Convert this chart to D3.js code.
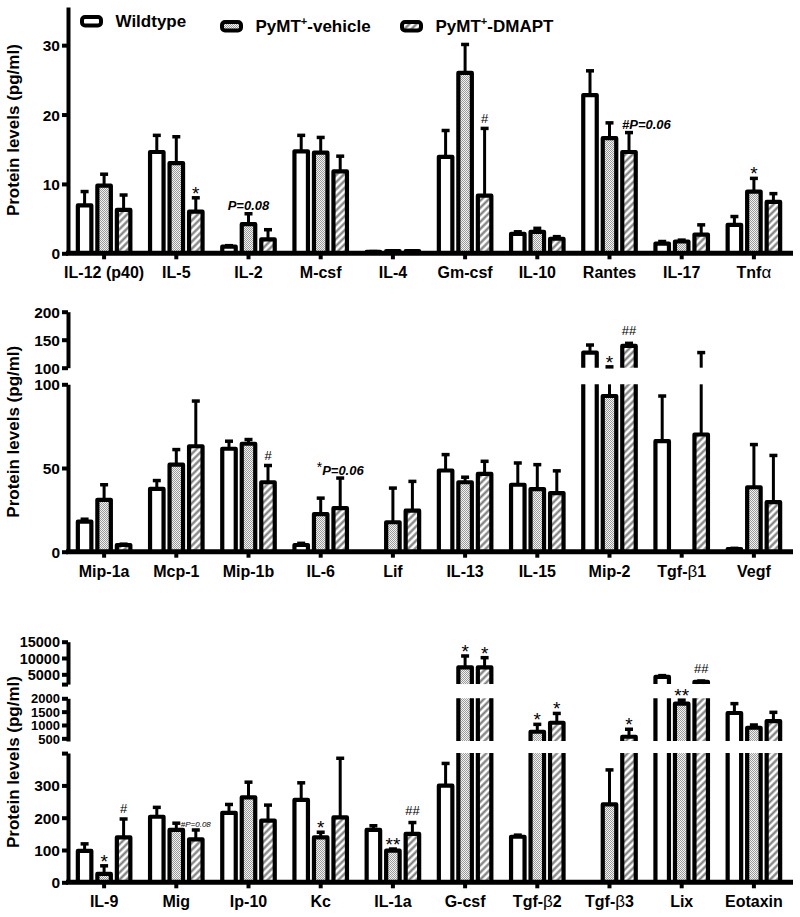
<!DOCTYPE html>
<html><head><meta charset="utf-8">
<script src="https://cdn.jsdelivr.net/npm/d3@7"></script>
<style>
body{margin:0;background:#fff}
svg text{font-family:"Liberation Sans", Arial, Helvetica, sans-serif;fill:#000}
</style></head>
<body><svg id="chart" width="800" height="917"></svg>
<script>
// ---------------- DATA ----------------
const groups = ["Wildtype", "PyMT+-vehicle", "PyMT+-DMAPT"];

const cats1 = ["IL-12 (p40)", "IL-5", "IL-2", "M-csf", "IL-4", "Gm-csf", "IL-10", "Rantes", "IL-17", "Tnfα"];
const wt1     = [6.9, 14.6, 0.95, 14.7, 0.2, 13.9, 2.8, 22.8, 1.4, 4.1];
const wt1Sem  = [2.0, 2.4, 0.15, 2.3, 0.05, 3.8, 0.3, 3.5, 0.3, 1.2];
const veh1    = [9.75, 13.0, 4.2, 14.5, 0.3, 26.0, 3.1, 16.6, 1.7, 8.9];
const veh1Sem = [1.65, 3.8, 1.5, 2.2, 0.05, 4.1, 0.5, 2.2, 0.2, 1.9];
const dm1     = [6.25, 6.0, 2.0, 11.8, 0.3, 8.3, 2.1, 14.6, 2.7, 7.4];
const dm1Sem  = [2.15, 2.0, 1.4, 2.2, 0.05, 9.7, 0.3, 2.8, 1.4, 1.2];
const ticks1 = [0, 10, 20, 30];

const cats2 = ["Mip-1a", "Mcp-1", "Mip-1b", "IL-6", "Lif", "IL-13", "IL-15", "Mip-2", "Tgf-β1", "Vegf"];
const wt2     = [18.0, 37.5, 61.5, 4.0, 0, 48.5, 40.0, 127, 66, 1.5];
const wt2Sem  = [1.4, 5.0, 4.5, 1.0, 0, 9.5, 13.0, 13.5, 27, 0.5];
const veh2    = [31, 52, 64.5, 22.4, 17.6, 41.5, 37.4, 93, 0, 38.5];
const veh2Sem = [9, 9, 2.5, 9.6, 20.4, 3.0, 14.6, 8.5, 0, 25.5];
const dm2     = [4.0, 63, 41.5, 26, 24.5, 46.5, 35, 138.8, 70, 29.6];
const dm2Sem  = [0.5, 27, 10, 18, 17.5, 7.5, 13.3, 4.7, 57, 27.9];
const ticks2Low = [0, 50, 100];
const ticks2High = [100, 150, 200];

const cats3 = ["IL-9", "Mig", "Ip-10", "Kc", "IL-1a", "G-csf", "Tgf-β2", "Tgf-β3", "Lix", "Eotaxin"];
const wt3     = [97, 203, 215, 255, 162, 299, 141, 0, 4200, 1450];
const wt3Sem  = [22, 29, 26, 53, 13, 69, 5, 0, 400, 350];
const veh3    = [26, 162, 263, 139, 98, 7150, 747, 241, 1800, 897];
const veh3Sem = [25, 21, 47, 16, 5, 3470, 277, 107, 130, 103];
const dm3     = [139, 133, 191, 201, 150, 7150, 1084, 560, 2700, 1148];
const dm3Sem  = [57, 29, 48, 183, 35, 2950, 349, 280, 250, 326];
const ticks3Low = [0, 100, 200, 300];
const ticks3Mid = [500, 1000, 1500, 2000];
const ticks3High = [5000, 10000, 15000];

const notes1 = [
  {cat: "IL-5", g: 2, text: "*"},
  {cat: "IL-2", g: 1, text: "P=0.08"},
  {cat: "Gm-csf", g: 2, text: "#"},
  {cat: "Rantes", g: 2, text: "#P=0.06", anchor: "start"},
  {cat: "Tnfα", g: 1, text: "*"}
];
const notes2 = [
  {cat: "Mip-1b", g: 2, text: "#"},
  {cat: "IL-6", g: 2, text: "*P=0.06"},
  {cat: "Mip-2", g: 1, text: "*"},
  {cat: "Mip-2", g: 2, text: "##"}
];
const notes3 = [
  {cat: "IL-9", g: 1, text: "*"}, {cat: "IL-9", g: 2, text: "#"},
  {cat: "Mig", g: 2, text: "#P=0.08", small: true},
  {cat: "Kc", g: 1, text: "*"},
  {cat: "IL-1a", g: 1, text: "**"}, {cat: "IL-1a", g: 2, text: "##"},
  {cat: "G-csf", g: 1, text: "*"}, {cat: "G-csf", g: 2, text: "*"},
  {cat: "Tgf-β2", g: 1, text: "*"}, {cat: "Tgf-β2", g: 2, text: "*"},
  {cat: "Tgf-β3", g: 2, text: "*"},
  {cat: "Lix", g: 1, text: "**"}, {cat: "Lix", g: 2, text: "##"}
];

// ---------------- LAYOUT ----------------
const svg = d3.select("#chart");
const defs = svg.append("defs");
const chk = defs.append("pattern").attr("id", "chk").attr("patternUnits", "userSpaceOnUse")
  .attr("width", 2).attr("height", 2);
chk.append("rect").attr("width", 2).attr("height", 2).attr("fill", "#f2f2f2");
chk.append("rect").attr("width", 1).attr("height", 1).attr("fill", "#9a9a9a");
chk.append("rect").attr("x", 1).attr("y", 1).attr("width", 1).attr("height", 1).attr("fill", "#9a9a9a");
const hatch = defs.append("pattern").attr("id", "hatch").attr("patternUnits", "userSpaceOnUse")
  .attr("width", 5).attr("height", 5).attr("patternTransform", "rotate(45)");
hatch.append("rect").attr("width", 5).attr("height", 5).attr("fill", "#fff");
hatch.append("line").attr("x1", 1.5).attr("y1", 0).attr("x2", 1.5).attr("y2", 5)
  .attr("stroke", "#7a7a7a").attr("stroke-width", 2.2);
const fills = ["#fff", "url(#chk)", "url(#hatch)"];

const X0 = 68, X1 = 790;
const BW = 13.5, OFF = 19.5, SW = 4.2;

const panels = [
  {cats: cats1, vals: [wt1, veh1, dm1], sems: [wt1Sem, veh1Sem, dm1Sem], notes: notes1,
   segs: [{domain: [0, 35.5], range: [253.3, 7], ticks: ticks1, labels: ticks1, fs: 15.5}]},
  {cats: cats2, vals: [wt2, veh2, dm2], sems: [wt2Sem, veh2Sem, dm2Sem], notes: notes2,
   segs: [{domain: [0, 100], range: [551.7, 384.3], ticks: ticks2Low, labels: ticks2Low, fs: 15.5},
          {domain: [100, 200], range: [367.7, 311.7], ticks: ticks2High, labels: ticks2High, fs: 15.5}]},
  {cats: cats3, vals: [wt3, veh3, dm3], sems: [wt3Sem, veh3Sem, dm3Sem], notes: notes3,
   segs: [{domain: [0, 400], range: [882.3, 753.1], ticks: ticks3Low.concat([400]), labels: ticks3Low, fs: 15.5},
          {domain: [400, 2000], range: [741, 698.3], ticks: ticks3Mid, labels: ticks3Mid, fs: 13},
          {domain: [2000, 15000], range: [684.1, 641.7], ticks: [2000].concat(ticks3High), labels: ticks3High, fs: 14.5}]}
];

function labelWithGreek(sel) {
  sel.each(function(d) {
    const t = d3.select(this);
    const s = String(d);
    const m = s.match(/^(.*?)([αβ])(.*)$/);
    if (m) {
      t.text(null);
      t.append("tspan").text(m[1]);
      t.append("tspan").attr("font-weight", "normal").attr("font-size", 17).text(m[2]);
      if (m[3]) t.append("tspan").text(m[3]);
    }
  });
}

panels.forEach(p => {
  const g = svg.append("g");
  const x = d3.scaleBand().domain(p.cats).range([X0, X1]).padding(0);
  p.segs.forEach(s => { s.scale = d3.scaleLinear().domain(s.domain).range(s.range); });
  const baseY = p.segs[0].range[0];
  const topY = p.segs[p.segs.length - 1].range[1];

  // bars
  p.cats.forEach((c, ci) => {
    [0, 1, 2].forEach(gi => {
      const v = p.vals[gi][ci], e = p.sems[gi][ci];
      if (!(v > 0)) return;
      const xc = x(c) + x.bandwidth() / 2 + (gi - 1) * OFF;
      const top = v + e;
      const bg = g.append("g");
      p.segs.forEach((s, si) => {
        const [d0, d1] = s.domain;
        if (v > d0) {
          const hi = Math.min(v, d1);
          const y0 = s.scale(d0), y1 = s.scale(hi);
          const closed = v <= d1;
          bg.append("rect").attr("x", xc - BW / 2).attr("y", y1)
            .attr("width", BW).attr("height", y0 - y1).attr("fill", fills[gi]);
          const l = xc - BW / 2, r = xc + BW / 2;
          const path = closed
            ? `M${l},${y0}L${l},${y1}L${r},${y1}L${r},${y0}`
            : `M${l},${y0}L${l},${y1}M${r},${y1}L${r},${y0}`;
          bg.append("path").attr("d", path).attr("fill", "none").attr("stroke", "#000")
            .attr("stroke-width", SW).attr("stroke-linejoin", "round");
        }
        // error bar
        const eLo = Math.max(v, d0), eHi = Math.min(top, d1);
        if (eHi > eLo) {
          bg.append("line").attr("x1", xc).attr("x2", xc)
            .attr("y1", s.scale(eLo)).attr("y2", s.scale(eHi))
            .attr("stroke", "#000").attr("stroke-width", 3);
        }
        if (top > d0 && top <= d1 && e > 0) {
          bg.append("line").attr("x1", xc - 4).attr("x2", xc + 4)
            .attr("y1", s.scale(top)).attr("y2", s.scale(top))
            .attr("stroke", "#000").attr("stroke-width", 3.5);
        }
      });
    });
  });

  // annotations
  p.notes.forEach(n => {
    const ci = p.cats.indexOf(n.cat);
    const v = p.vals[n.g][ci], e = p.sems[n.g][ci], top = v + e;
    const s = p.segs.find(s => top > s.domain[0] && top <= s.domain[1]) || p.segs[0];
    const ye = s.scale(top);
    const xc = x(n.cat) + x.bandwidth() / 2 + (n.g - 1) * OFF;
    const t = g.append("text").attr("text-anchor", n.anchor || "middle");
    const txt = n.text;
    if (/^\*+$/.test(txt)) {
      t.attr("x", xc).attr("y", ye + 2).attr("font-size", 19).text(txt);
    } else if (/^#+$/.test(txt)) {
      t.attr("x", xc).attr("y", ye - (txt.length > 1 ? 8 : 5.5)).attr("font-size", 13).text(txt);
    } else {
      const fs = n.small ? 8 : 13;
      t.attr("x", n.anchor === "start" ? xc - 7 : xc).attr("y", ye - (n.small ? 3 : 3.5))
        .attr("font-size", fs).attr("font-style", "italic").attr("font-weight", n.small ? "normal" : "bold");
      if (txt[0] === "*") {
        t.append("tspan").attr("font-style", "normal").attr("font-weight", "normal")
          .attr("font-size", 14).attr("dy", -3).text("*");
        t.append("tspan").attr("dy", 3).text(txt.slice(1));
      } else {
        t.text(txt);
      }
    }
  });

  // y axes
  p.segs.forEach(s => {
    const ax = g.append("g").attr("transform", `translate(${X0},0)`)
      .call(d3.axisLeft(s.scale).tickValues(s.ticks).tickSize(6).tickSizeOuter(0)
        .tickFormat(d => s.labels.includes(d) ? d : ""));
    ax.select(".domain").attr("stroke", "#000").attr("stroke-width", 4);
    ax.selectAll(".tick line").attr("stroke", "#000").attr("stroke-width", 4);
    ax.selectAll(".tick text").attr("font-size", s.fs).attr("font-weight", "bold")
      .attr("font-family", '"Liberation Sans", Arial, sans-serif').attr("fill", "#000")
      .attr("x", -8).attr("dy", "0.36em");
  });

  // x axis
  const xa = g.append("g").attr("transform", `translate(0,${baseY})`)
    .call(d3.axisBottom(x).tickSize(6).tickSizeOuter(0));
  xa.select(".domain").attr("d", `M${X0 - 2},0H${X1 + 3}`).attr("stroke", "#000").attr("stroke-width", 5);
  xa.selectAll(".tick line").attr("stroke", "#000").attr("stroke-width", 4);
  xa.selectAll(".tick text").attr("font-size", 16).attr("font-weight", "bold")
    .attr("font-family", '"Liberation Sans", Arial, sans-serif').attr("fill", "#000")
    .attr("y", 25).attr("dy", null).call(labelWithGreek);

  // y title
  g.append("text").attr("transform", `translate(19,${(baseY + topY) / 2}) rotate(-90)`)
    .attr("text-anchor", "middle").attr("font-size", 17).attr("font-weight", "bold")
    .text("Protein levels (pg/ml)");
});

// legend
const legendPos = [{x: 82, y: 17}, {x: 222, y: 22}, {x: 402, y: 22}];
groups.forEach((name, i) => {
  const lp = legendPos[i];
  svg.append("rect").attr("x", lp.x).attr("y", lp.y).attr("width", 19).attr("height", 8.5)
    .attr("rx", 3).attr("fill", fills[i]).attr("stroke", "#000").attr("stroke-width", 4);
  const t = svg.append("text").attr("x", lp.x + 33.5).attr("y", lp.y + 10.3)
    .attr("font-size", 17).attr("font-weight", "bold");
  const parts = name.split("+");
  if (parts.length > 1) {
    t.append("tspan").text(parts[0]);
    t.append("tspan").attr("font-size", 11).attr("dy", -7).text("+");
    t.append("tspan").attr("dy", 7).text(parts[1]);
  } else t.text(name);
});
</script>
</body></html>
